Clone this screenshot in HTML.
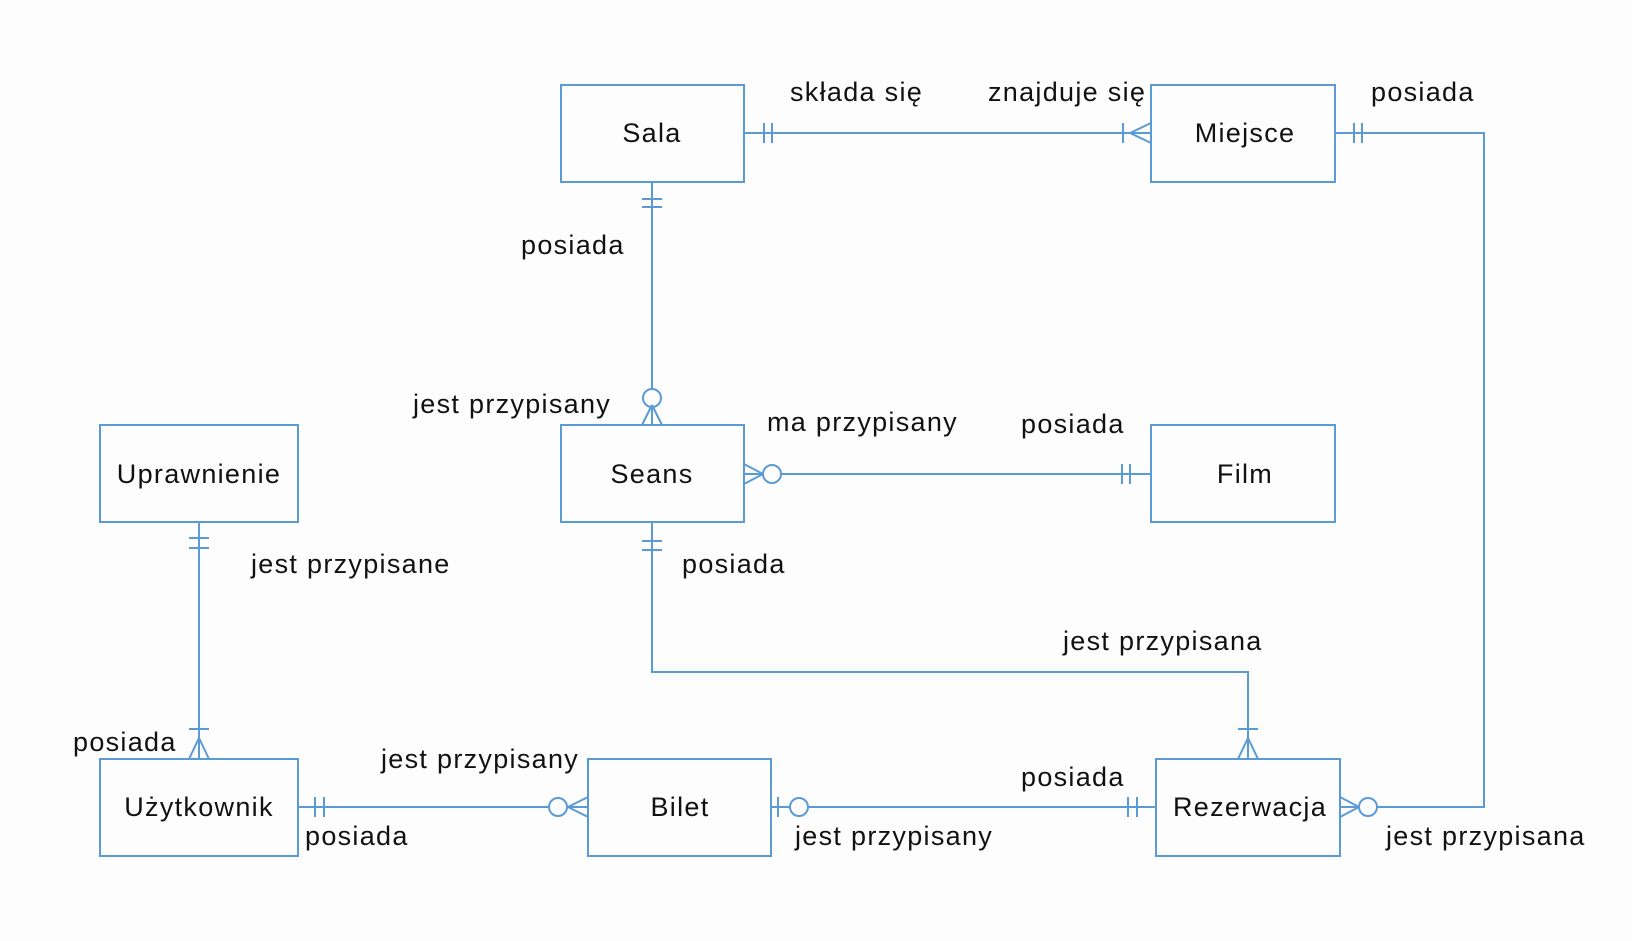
<!DOCTYPE html>
<html><head><meta charset="utf-8"><style>
html,body{margin:0;padding:0;background:#fdfdfd;}
svg{display:block;}
text{font-family:"Liberation Sans",sans-serif;font-size:27px;fill:#111;dominant-baseline:central;letter-spacing:1.3px;}
.e{text-anchor:middle;}
</style></head><body>
<svg width="1632" height="941" viewBox="0 0 1632 941" xmlns="http://www.w3.org/2000/svg">
<g fill="none" stroke="#5b9bd5" stroke-width="2">
<rect x="561" y="85" width="183" height="97"/>
<rect x="1151" y="85" width="184" height="97"/>
<rect x="100" y="425" width="198" height="97"/>
<rect x="561" y="425" width="183" height="97"/>
<rect x="1151" y="425" width="184" height="97"/>
<rect x="100" y="759" width="198" height="97"/>
<rect x="588" y="759" width="183" height="97"/>
<rect x="1156" y="759" width="184" height="97"/>
<line x1="744" y1="133" x2="1151" y2="133"/>
<line x1="652" y1="182" x2="652" y2="389"/>
<line x1="781" y1="474" x2="1151" y2="474"/>
<polyline points="652,522 652,672 1248,672 1248,759"/>
<polyline points="1335,133 1484,133 1484,807 1377,807"/>
<line x1="199" y1="522" x2="199" y2="759"/>
<line x1="298" y1="807" x2="549" y2="807"/>
<line x1="771" y1="807" x2="790" y2="807"/>
<line x1="808" y1="807" x2="1156" y2="807"/>
<line x1="764" y1="123" x2="764" y2="143"/><line x1="772" y1="123" x2="772" y2="143"/>
<line x1="1130" y1="133" x2="1151" y2="123"/><line x1="1130" y1="133" x2="1151" y2="143"/>
<line x1="1123" y1="123" x2="1123" y2="143"/>
<line x1="642" y1="199" x2="662" y2="199"/><line x1="642" y1="207" x2="662" y2="207"/>
<line x1="652" y1="405" x2="642" y2="425"/><line x1="652" y1="405" x2="662" y2="425"/>
<line x1="652" y1="405" x2="652" y2="425"/>
<circle cx="652" cy="398" r="9"/>
<line x1="763" y1="474" x2="744" y2="464"/><line x1="763" y1="474" x2="744" y2="484"/>
<line x1="744" y1="474" x2="763" y2="474"/>
<circle cx="772" cy="474" r="9"/>
<line x1="1122" y1="464" x2="1122" y2="484"/><line x1="1130" y1="464" x2="1130" y2="484"/>
<line x1="642" y1="541" x2="662" y2="541"/><line x1="642" y1="550" x2="662" y2="550"/>
<line x1="1248" y1="738" x2="1238" y2="759"/><line x1="1248" y1="738" x2="1258" y2="759"/>
<line x1="1238" y1="729" x2="1258" y2="729"/>
<line x1="1354" y1="123" x2="1354" y2="143"/><line x1="1362" y1="123" x2="1362" y2="143"/>
<line x1="1359" y1="807" x2="1340" y2="797"/><line x1="1359" y1="807" x2="1340" y2="817"/>
<line x1="1340" y1="807" x2="1359" y2="807"/>
<circle cx="1368" cy="807" r="9"/>
<line x1="189" y1="538" x2="209" y2="538"/><line x1="189" y1="548" x2="209" y2="548"/>
<line x1="199" y1="738" x2="189" y2="759"/><line x1="199" y1="738" x2="209" y2="759"/>
<line x1="189" y1="729" x2="209" y2="729"/>
<line x1="315" y1="797" x2="315" y2="817"/><line x1="324" y1="797" x2="324" y2="817"/>
<line x1="568" y1="807" x2="588" y2="797"/><line x1="568" y1="807" x2="588" y2="817"/>
<line x1="568" y1="807" x2="588" y2="807"/>
<circle cx="558" cy="807" r="9"/>
<line x1="778" y1="797" x2="778" y2="817"/>
<circle cx="799" cy="807" r="9"/>
<line x1="1128" y1="797" x2="1128" y2="817"/><line x1="1137" y1="797" x2="1137" y2="817"/>
</g>
<text class="e" x="652" y="133">Sala</text>
<text class="e" x="1245" y="133">Miejsce</text>
<text class="e" x="199" y="474">Uprawnienie</text>
<text class="e" x="652" y="474">Seans</text>
<text class="e" x="1245" y="474">Film</text>
<text class="e" x="199" y="807">Użytkownik</text>
<text class="e" x="680" y="807">Bilet</text>
<text class="e" x="1250" y="807">Rezerwacja</text>

<text x="790" y="92">składa się</text>
<text x="988" y="92">znajduje się</text>
<text x="1371" y="92">posiada</text>
<text x="521" y="245">posiada</text>
<text x="413" y="404">jest przypisany</text>
<text x="767" y="422">ma przypisany</text>
<text x="1021" y="424">posiada</text>
<text x="251" y="564">jest przypisane</text>
<text x="682" y="564">posiada</text>
<text x="1063" y="641">jest przypisana</text>
<text x="73" y="742">posiada</text>
<text x="381" y="759">jest przypisany</text>
<text x="1021" y="777">posiada</text>
<text x="305" y="836">posiada</text>
<text x="795" y="836">jest przypisany</text>
<text x="1386" y="836">jest przypisana</text>
</svg>
</body></html>
